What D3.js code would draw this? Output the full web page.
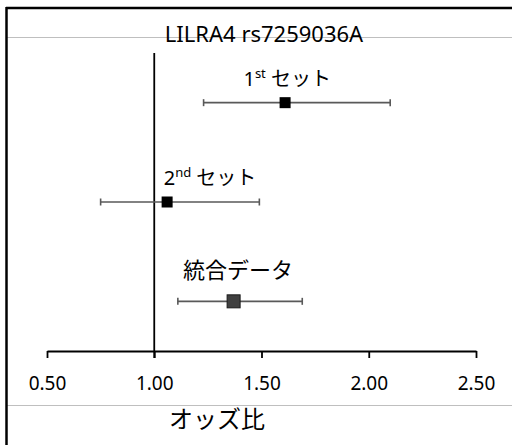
<!DOCTYPE html>
<html><head><meta charset="utf-8">
<script src="https://cdn.jsdelivr.net/npm/d3@7"></script>
<style>
html,body{margin:0;padding:0;background:#fff;}
svg{display:block;font-family:"Noto Sans","Noto Sans CJK JP",sans-serif;}
</style></head>
<body>
<svg id="chart" width="512" height="445"></svg>
<script>
// ---- data ----
const title = "LILRA4 rs7259036A";
const xAxisTitle = "オッズ比";
const categories = ["1st", "2nd", "combined"];
const labelMain = ["1", "2", "統合データ"];
const labelSup = ["st", "nd", ""];
const labelTail = [" セット", " セット", ""];
const oddsRatio = [1.61, 1.06, 1.37];
const ciLow = [1.23, 0.75, 1.11];
const ciHigh = [2.10, 1.49, 1.69];
const labelPos = [1.62, 1.26, 1.39];
const tickValues = [0.50, 1.00, 1.50, 2.00, 2.50];
const refValue = 1.00;

const svg = d3.select("#chart");
const W = 512, H = 445;

const x = d3.scaleLinear().domain([0.5, 2.5]).range([47, 476]);
const y = d3.scaleBand().domain(categories).range([53, 351]).padding(0);
const yc = c => y(c) + y.bandwidth() / 2;
const axisY = 351;

// frame lines
svg.append("line").attr("x1", 7).attr("x2", W).attr("y1", 37.5).attr("y2", 37.5)
  .attr("stroke", "#bfbfbf").attr("stroke-width", 1);
svg.append("line").attr("x1", 7).attr("x2", W).attr("y1", 405.5).attr("y2", 405.5)
  .attr("stroke", "#bfbfbf").attr("stroke-width", 1);
svg.append("line").attr("x1", 6).attr("x2", W).attr("y1", 8).attr("y2", 8)
  .attr("stroke", "#000").attr("stroke-width", 2.5);
svg.append("line").attr("x1", 6.5).attr("x2", 6.5).attr("y1", 7).attr("y2", H)
  .attr("stroke", "#000").attr("stroke-width", 2.5);

// title
svg.append("text").attr("x", 264).attr("y", 42).attr("text-anchor", "middle")
  .attr("font-size", 22).attr("fill", "#000").text(title);

// axis
const axis = d3.axisBottom(x).tickValues(tickValues).tickFormat(d3.format(".2f"))
  .tickSize(7).tickSizeOuter(0).tickPadding(19);
const gA = svg.append("g").attr("transform", `translate(0,${axisY})`).call(axis);
gA.select(".domain").attr("stroke", "#000").attr("stroke-width", 1.8);
gA.selectAll(".tick line").attr("stroke", "#000").attr("stroke-width", 1.8);
gA.selectAll(".tick text").attr("font-size", 19).attr("fill", "#000")
  .attr("font-family", "'Noto Sans', sans-serif");

// reference line
svg.append("line").attr("x1", x(refValue)).attr("x2", x(refValue))
  .attr("y1", y.range()[0]).attr("y2", axisY + 7)
  .attr("stroke", "#000").attr("stroke-width", 1.8);

// axis title
svg.append("text").attr("x", 217).attr("y", 428).attr("text-anchor", "middle")
  .attr("font-size", 24).attr("fill", "#000").text(xAxisTitle);

// error bars
const g = svg.append("g");
categories.forEach((c, i) => {
  const cy = yc(c);
  g.append("line").attr("x1", x(ciLow[i])).attr("x2", x(ciHigh[i]))
    .attr("y1", cy).attr("y2", cy).attr("stroke", "#595959").attr("stroke-width", 1.6);
  [ciLow[i], ciHigh[i]].forEach(v => {
    g.append("line").attr("x1", x(v)).attr("x2", x(v))
      .attr("y1", cy - 3.5).attr("y2", cy + 3.5)
      .attr("stroke", "#595959").attr("stroke-width", 1.6);
  });
  const s = i === 2 ? 13 : 11;
  g.append("rect").attr("x", x(oddsRatio[i]) - s / 2).attr("y", cy - s / 2)
    .attr("width", s).attr("height", s)
    .attr("fill", i === 2 ? "#404040" : "#000")
    .attr("stroke", i === 2 ? "#1a1a1a" : "none").attr("stroke-width", 1);

  // label
  const t = g.append("text").attr("x", x(labelPos[i])).attr("y", cy - (i === 2 ? 23 : 17))
    .attr("text-anchor", "middle").attr("font-size", i === 2 ? 22 : 20).attr("fill", "#000");
  t.append("tspan").text(labelMain[i]);
  if (labelSup[i]) {
    t.append("tspan").attr("font-size", 13).attr("dy", -8).text(labelSup[i]);
    t.append("tspan").attr("dy", 8).text(labelTail[i]);
  }
});
</script>
</body></html>
